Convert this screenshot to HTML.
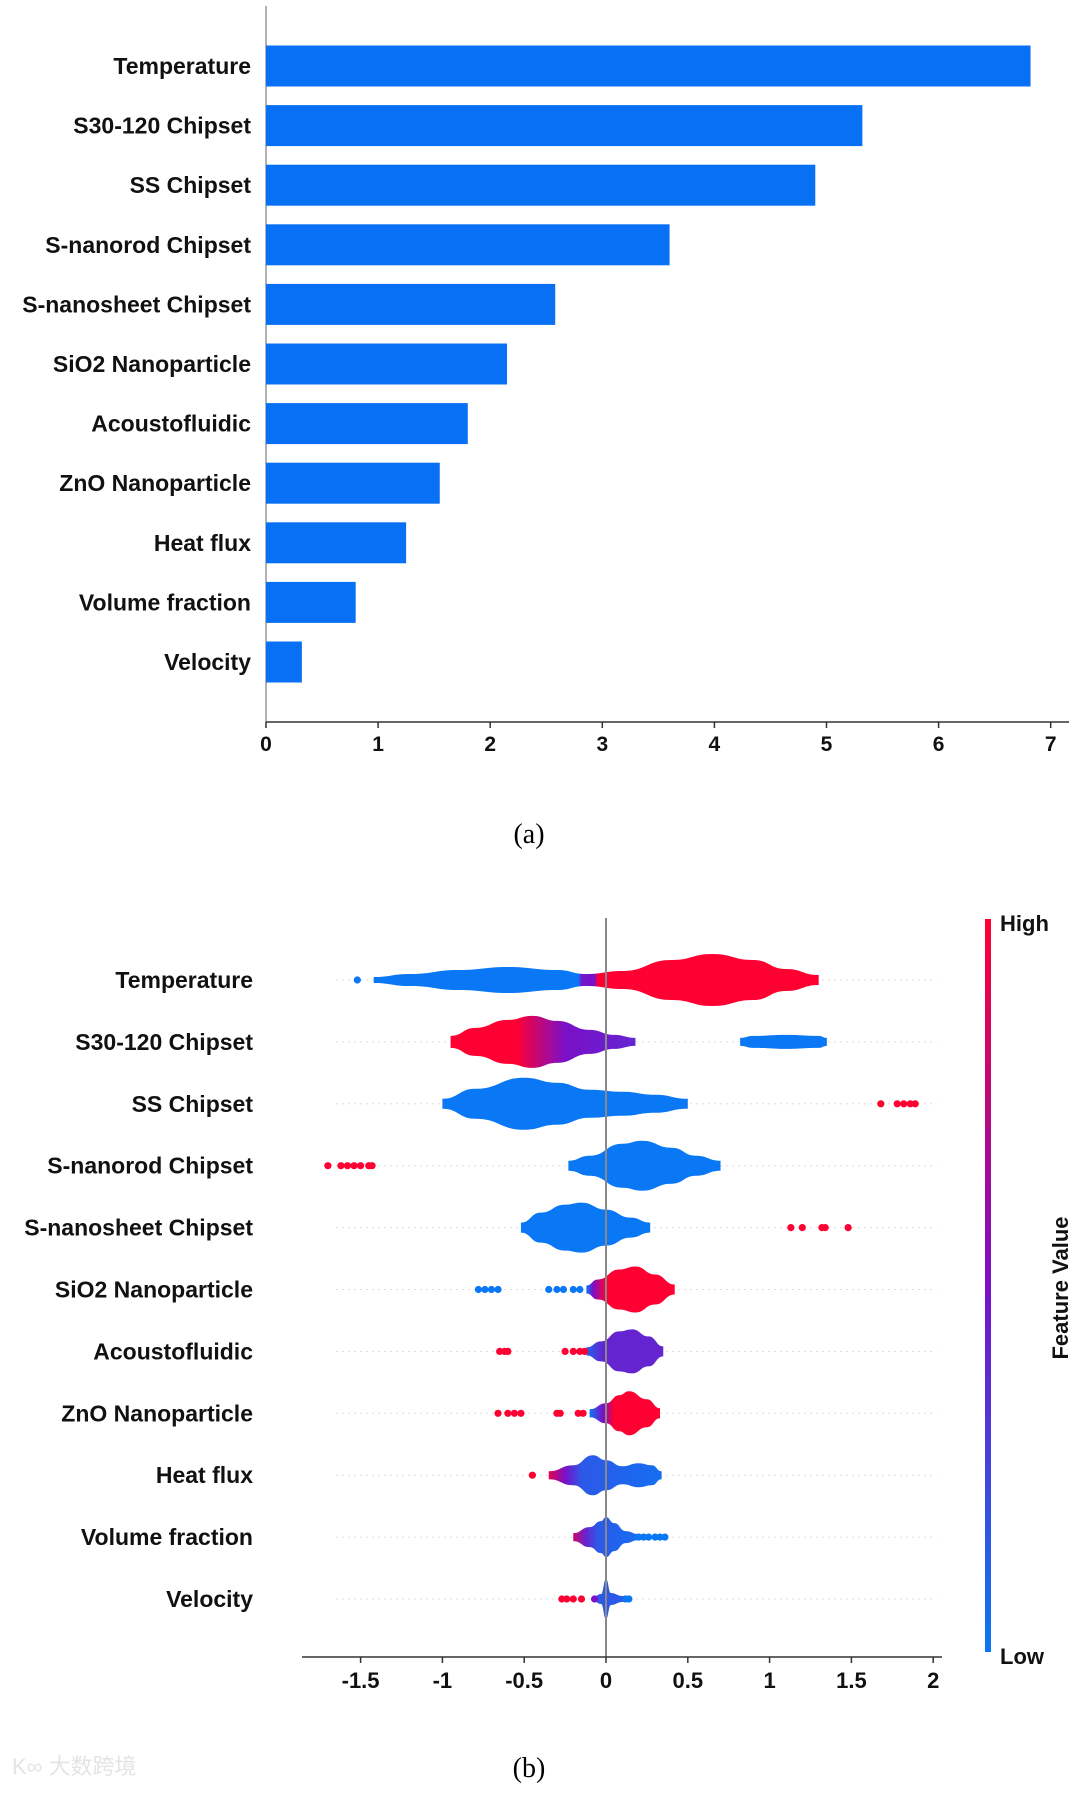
<!DOCTYPE html>
<html><head><meta charset="utf-8">
<style>
html,body{margin:0;padding:0;background:#fff;}
svg{display:block;}
text{font-family:"Liberation Sans",Arial,sans-serif;}
</style></head>
<body>
<svg id="chart" width="1080" height="1793" viewBox="0 0 1080 1793" xmlns="http://www.w3.org/2000/svg">
<defs id="defs"></defs>
<g id="gA"></g>
<g id="gB"></g>
<text x="529" y="843" font-size="28" text-anchor="middle" style="font-family:'Liberation Serif',serif">(a)</text>
<text x="529" y="1777" font-size="28" text-anchor="middle" style="font-family:'Liberation Serif',serif">(b)</text>
<text x="12" y="1774" font-size="22" fill="#e4e4e4" style="font-family:'Liberation Sans','Noto Sans CJK SC',sans-serif">K∞ 大数跨境</text>
</svg>
<script>
const features = ["Temperature","S30-120 Chipset","SS Chipset","S-nanorod Chipset","S-nanosheet Chipset","SiO2 Nanoparticle","Acoustofluidic","ZnO Nanoparticle","Heat flux","Volume fraction","Velocity"];
const importance = [6.82,5.32,4.9,3.6,2.58,2.15,1.8,1.55,1.25,0.8,0.32];
const barTicks = [0,1,2,3,4,5,6,7];
const shapTicks = [-1.5,-1,-0.5,0,0.5,1,1.5,2];
const shapTickLabels = ["-1.5","-1","-0.5","0","0.5","1","1.5","2"];

const vTemp = [[-1.42,3],[-1.2,6],[-0.9,10],[-0.6,13],[-0.3,10],[-0.12,6],[0.1,9],[0.4,20],[0.65,26],[0.9,20],[1.1,11],[1.3,5]];
const cTemp = [[-1.42,0],[-0.17,0],[-0.15,0.45],[-0.07,0.5],[-0.05,1],[1.3,1]];
const vS30a = [[-0.95,6],[-0.8,14],[-0.6,22],[-0.45,26],[-0.3,21],[-0.1,12],[0.05,7],[0.18,4]];
const cS30a = [[-0.95,1],[-0.55,1],[-0.25,0.5],[0.18,0.4]];
const vS30b = [[0.82,4],[0.9,6],[1.1,7],[1.3,6],[1.35,4]];
const cS30b = [[0.82,0],[1.35,0]];
const vSS = [[-1.0,5],[-0.8,15],[-0.5,26],[-0.3,21],[-0.1,14],[0.1,12],[0.3,9],[0.5,5]];
const cSS = [[-1,0],[0.5,0]];
const vRod = [[-0.23,5],[-0.1,10],[0.1,22],[0.22,25],[0.4,18],[0.55,10],[0.7,5]];
const cRod = [[-0.23,0],[0.7,0]];
const vSheet = [[-0.52,5],[-0.4,15],[-0.25,23],[-0.15,25],[0,18],[0.15,10],[0.27,5]];
const cSheet = [[-0.52,0],[0.27,0]];
const vSiO2 = [[-0.12,4],[-0.05,10],[0.08,20],[0.18,23],[0.3,15],[0.42,5]];
const cSiO2 = [[-0.12,0],[-0.08,0.5],[0,1],[0.42,1]];
const vAco = [[-0.12,4],[-0.03,10],[0.08,20],[0.16,22],[0.26,15],[0.35,5]];
const cAco = [[-0.12,0.1],[-0.02,0.4],[0.35,0.4]];
const vZnO = [[-0.1,4],[0,10],[0.08,18],[0.14,22],[0.25,14],[0.33,5]];
const cZnO = [[-0.1,0],[-0.02,0.5],[0.05,1],[0.33,1]];
const vHeat = [[-0.35,4],[-0.2,10],[-0.08,20],[0,15],[0.1,9],[0.2,12],[0.28,10],[0.34,4]];
const cHeat = [[-0.35,0.9],[-0.25,0.5],[-0.15,0.15],[0.34,0.05]];
const vVol = [[-0.2,4],[-0.1,10],[-0.03,16],[0,20],[0.05,14],[0.12,6],[0.2,3]];
const cVol = [[-0.2,0.8],[-0.12,0.4],[-0.05,0.15],[0.2,0.05]];
const vVel = [[-0.08,2],[-0.03,5],[0,20],[0.03,6],[0.1,3],[0.14,2]];
const cVel = [[-0.08,0.15],[0.14,0.15]];

const dots = [[0,-1.52,0],[2,1.68,1],[2,1.78,1],[2,1.82,1],[2,1.86,1],[2,1.89,1],
[3,-1.7,1],[3,-1.62,1],[3,-1.58,1],[3,-1.54,1],[3,-1.5,1],[3,-1.45,1],[3,-1.43,1],
[4,1.13,1],[4,1.2,1],[4,1.32,1],[4,1.34,1],[4,1.48,1],
[5,-0.78,0],[5,-0.74,0],[5,-0.7,0],[5,-0.66,0],[5,-0.35,0],[5,-0.3,0],[5,-0.26,0],[5,-0.2,0],[5,-0.16,0],
[6,-0.65,1],[6,-0.62,1],[6,-0.6,1],[6,-0.25,1],[6,-0.2,1],[6,-0.16,1],[6,-0.13,1],
[7,-0.66,1],[7,-0.6,1],[7,-0.56,1],[7,-0.52,1],[7,-0.3,1],[7,-0.28,1],[7,-0.17,1],[7,-0.14,1],
[8,-0.45,1],[9,0.2,0],[9,0.23,0],[9,0.26,0],[9,0.3,0],[9,0.33,0],[9,0.36,0],
[10,-0.27,1],[10,-0.24,1],[10,-0.2,1],[10,-0.15,1],[10,-0.07,0.5],[10,0.12,0],[10,0.14,0]];

const NS="http://www.w3.org/2000/svg";
const defsEl=document.getElementById('defs');
function mk(tag,attrs,parent,txt){const e=document.createElementNS(NS,tag);for(const k in attrs)e.setAttribute(k,attrs[k]);if(txt!==undefined)e.textContent=txt;parent.appendChild(e);return e;}
function colorOf(v){
  const b=[10,120,245],p=[122,16,200],r=[255,0,50];
  let a,c,t;if(v<0.5){a=b;c=p;t=v/0.5;}else{a=p;c=r;t=(v-0.5)/0.5;}
  return "rgb("+a.map((x,i)=>Math.round(x+(c[i]-x)*t)).join(",")+")";
}
const cbg=mk('linearGradient',{id:'cbar',x1:0,y1:1,x2:0,y2:0},defsEl);
mk('stop',{offset:0,'stop-color':colorOf(0)},cbg);mk('stop',{offset:0.5,'stop-color':colorOf(0.5)},cbg);mk('stop',{offset:1,'stop-color':colorOf(1)},cbg);

// ---- Chart A ----
const gA=document.getElementById('gA');
const ax0=266, axUnit=112.1, ay0=66, aStep=59.6, barH=41, axisY=722;
const xA=v=>ax0+v*axUnit, yA=i=>ay0+i*aStep;
let ln=mk('line',{x1:ax0,y1:6,x2:ax0,y2:axisY,stroke:'#999','stroke-width':1.5},gA);


ln=mk('line',{x1:ax0,y1:axisY,x2:1069,y2:axisY,stroke:'#333','stroke-width':1.5},gA);


barTicks.forEach(t=>{
  mk('line',{x1:xA(t),y1:axisY,x2:xA(t),y2:axisY+6,stroke:'#333','stroke-width':1.5},gA);
  const tx=mk('text',{x:xA(t),y:axisY+29,'font-size':21,'font-weight':'bold','text-anchor':'middle',fill:'#111'},gA,String(t));
  
  
});
features.forEach((f,i)=>{
  const r=mk('rect',{x:ax0,y:yA(i)-barH/2,width:xA(importance[i])-ax0,height:barH,fill:'#0870f5'},gA);
  
  
  const t=mk('text',{x:251,y:yA(i)+8,'font-size':23,'font-weight':'bold','text-anchor':'end',fill:'#111'},gA,f);
  
  
});

// ---- Chart B ----
const gB=document.getElementById('gB');
const bx0=606, bUnit=163.6, by0=980, bStep=61.9, bAxisY=1657;
const xB=v=>bx0+v*bUnit, yB=i=>by0+i*bStep;
features.forEach((f,i)=>{
  const g=mk('line',{x1:xB(-1.65),y1:yB(i),x2:xB(2.02),y2:yB(i),stroke:'#ddd','stroke-width':1,'stroke-dasharray':'2,4'},gB);
  
  
  const t=mk('text',{x:253,y:yB(i)+8,'font-size':23,'font-weight':'bold','text-anchor':'end',fill:'#111'},gB,f);
  
  
});
let gid=0;
function smooth(a){let d='';for(let k=0;k<a.length-1;k++){const p0=a[k],p1=a[k+1],mx=(p0[0]+p1[0])/2;d+=' C'+mx+','+p0[1]+' '+mx+','+p1[1]+' '+p1[0]+','+p1[1];}return d;}
function violin(row,pts,cols){
  const id='vg'+(gid++);
  const x1=xB(pts[0][0]), x2=xB(pts[pts.length-1][0]);
  const lg=mk('linearGradient',{id:id,gradientUnits:'userSpaceOnUse',x1:x1,y1:0,x2:x2,y2:0},defsEl);
  cols.forEach(c=>mk('stop',{offset:Math.max(0,Math.min(1,(xB(c[0])-x1)/(x2-x1||1))),'stop-color':colorOf(c[1])},lg));
  const y=yB(row);
  const up=pts.map(p=>[xB(p[0]),y-p[1]]), dn=pts.slice().reverse().map(p=>[xB(p[0]),y+p[1]]);
  const d='M'+x1+','+y+' L'+up[0][0]+','+up[0][1]+smooth(up)+' L'+x2+','+y+' L'+dn[0][0]+','+dn[0][1]+smooth(dn)+' Z';
  const p=mk('path',{d:d,fill:'url(#'+id+')'},gB);
  
  
}
violin(0,vTemp,cTemp);violin(1,vS30a,cS30a);violin(1,vS30b,cS30b);violin(2,vSS,cSS);violin(3,vRod,cRod);
violin(4,vSheet,cSheet);violin(5,vSiO2,cSiO2);violin(6,vAco,cAco);violin(7,vZnO,cZnO);violin(8,vHeat,cHeat);
violin(9,vVol,cVol);violin(10,vVel,cVel);
dots.forEach(d=>{
  const c=mk('circle',{cx:xB(d[1]),cy:yB(d[0]),r:3.6,fill:colorOf(d[2])},gB);
  
  
});
ln=mk('line',{x1:bx0,y1:918,x2:bx0,y2:bAxisY,stroke:'#888','stroke-width':2},gB);


ln=mk('line',{x1:302,y1:bAxisY,x2:942,y2:bAxisY,stroke:'#333','stroke-width':1.5},gB);


shapTicks.forEach((t,i)=>{
  mk('line',{x1:xB(t),y1:bAxisY,x2:xB(t),y2:bAxisY+6,stroke:'#333','stroke-width':1.5},gB);
  const tx=mk('text',{x:xB(t),y:bAxisY+31,'font-size':22,'font-weight':'bold','text-anchor':'middle',fill:'#111'},gB,shapTickLabels[i]);
  
  
});
const cb=mk('rect',{x:985,y:919,width:6,height:733,fill:'url(#cbar)'},gB);


let tt=mk('text',{x:1000,y:931,'font-size':22,'font-weight':'bold',fill:'#111'},gB,'High');


tt=mk('text',{x:1000,y:1664,'font-size':22,'font-weight':'bold',fill:'#111'},gB,'Low');


tt=mk('text',{x:0,y:0,'font-size':22,'font-weight':'bold','text-anchor':'middle',fill:'#111',transform:'translate(1068,1288) rotate(-90)'},gB,'Feature Value');


</script>
</body></html>
